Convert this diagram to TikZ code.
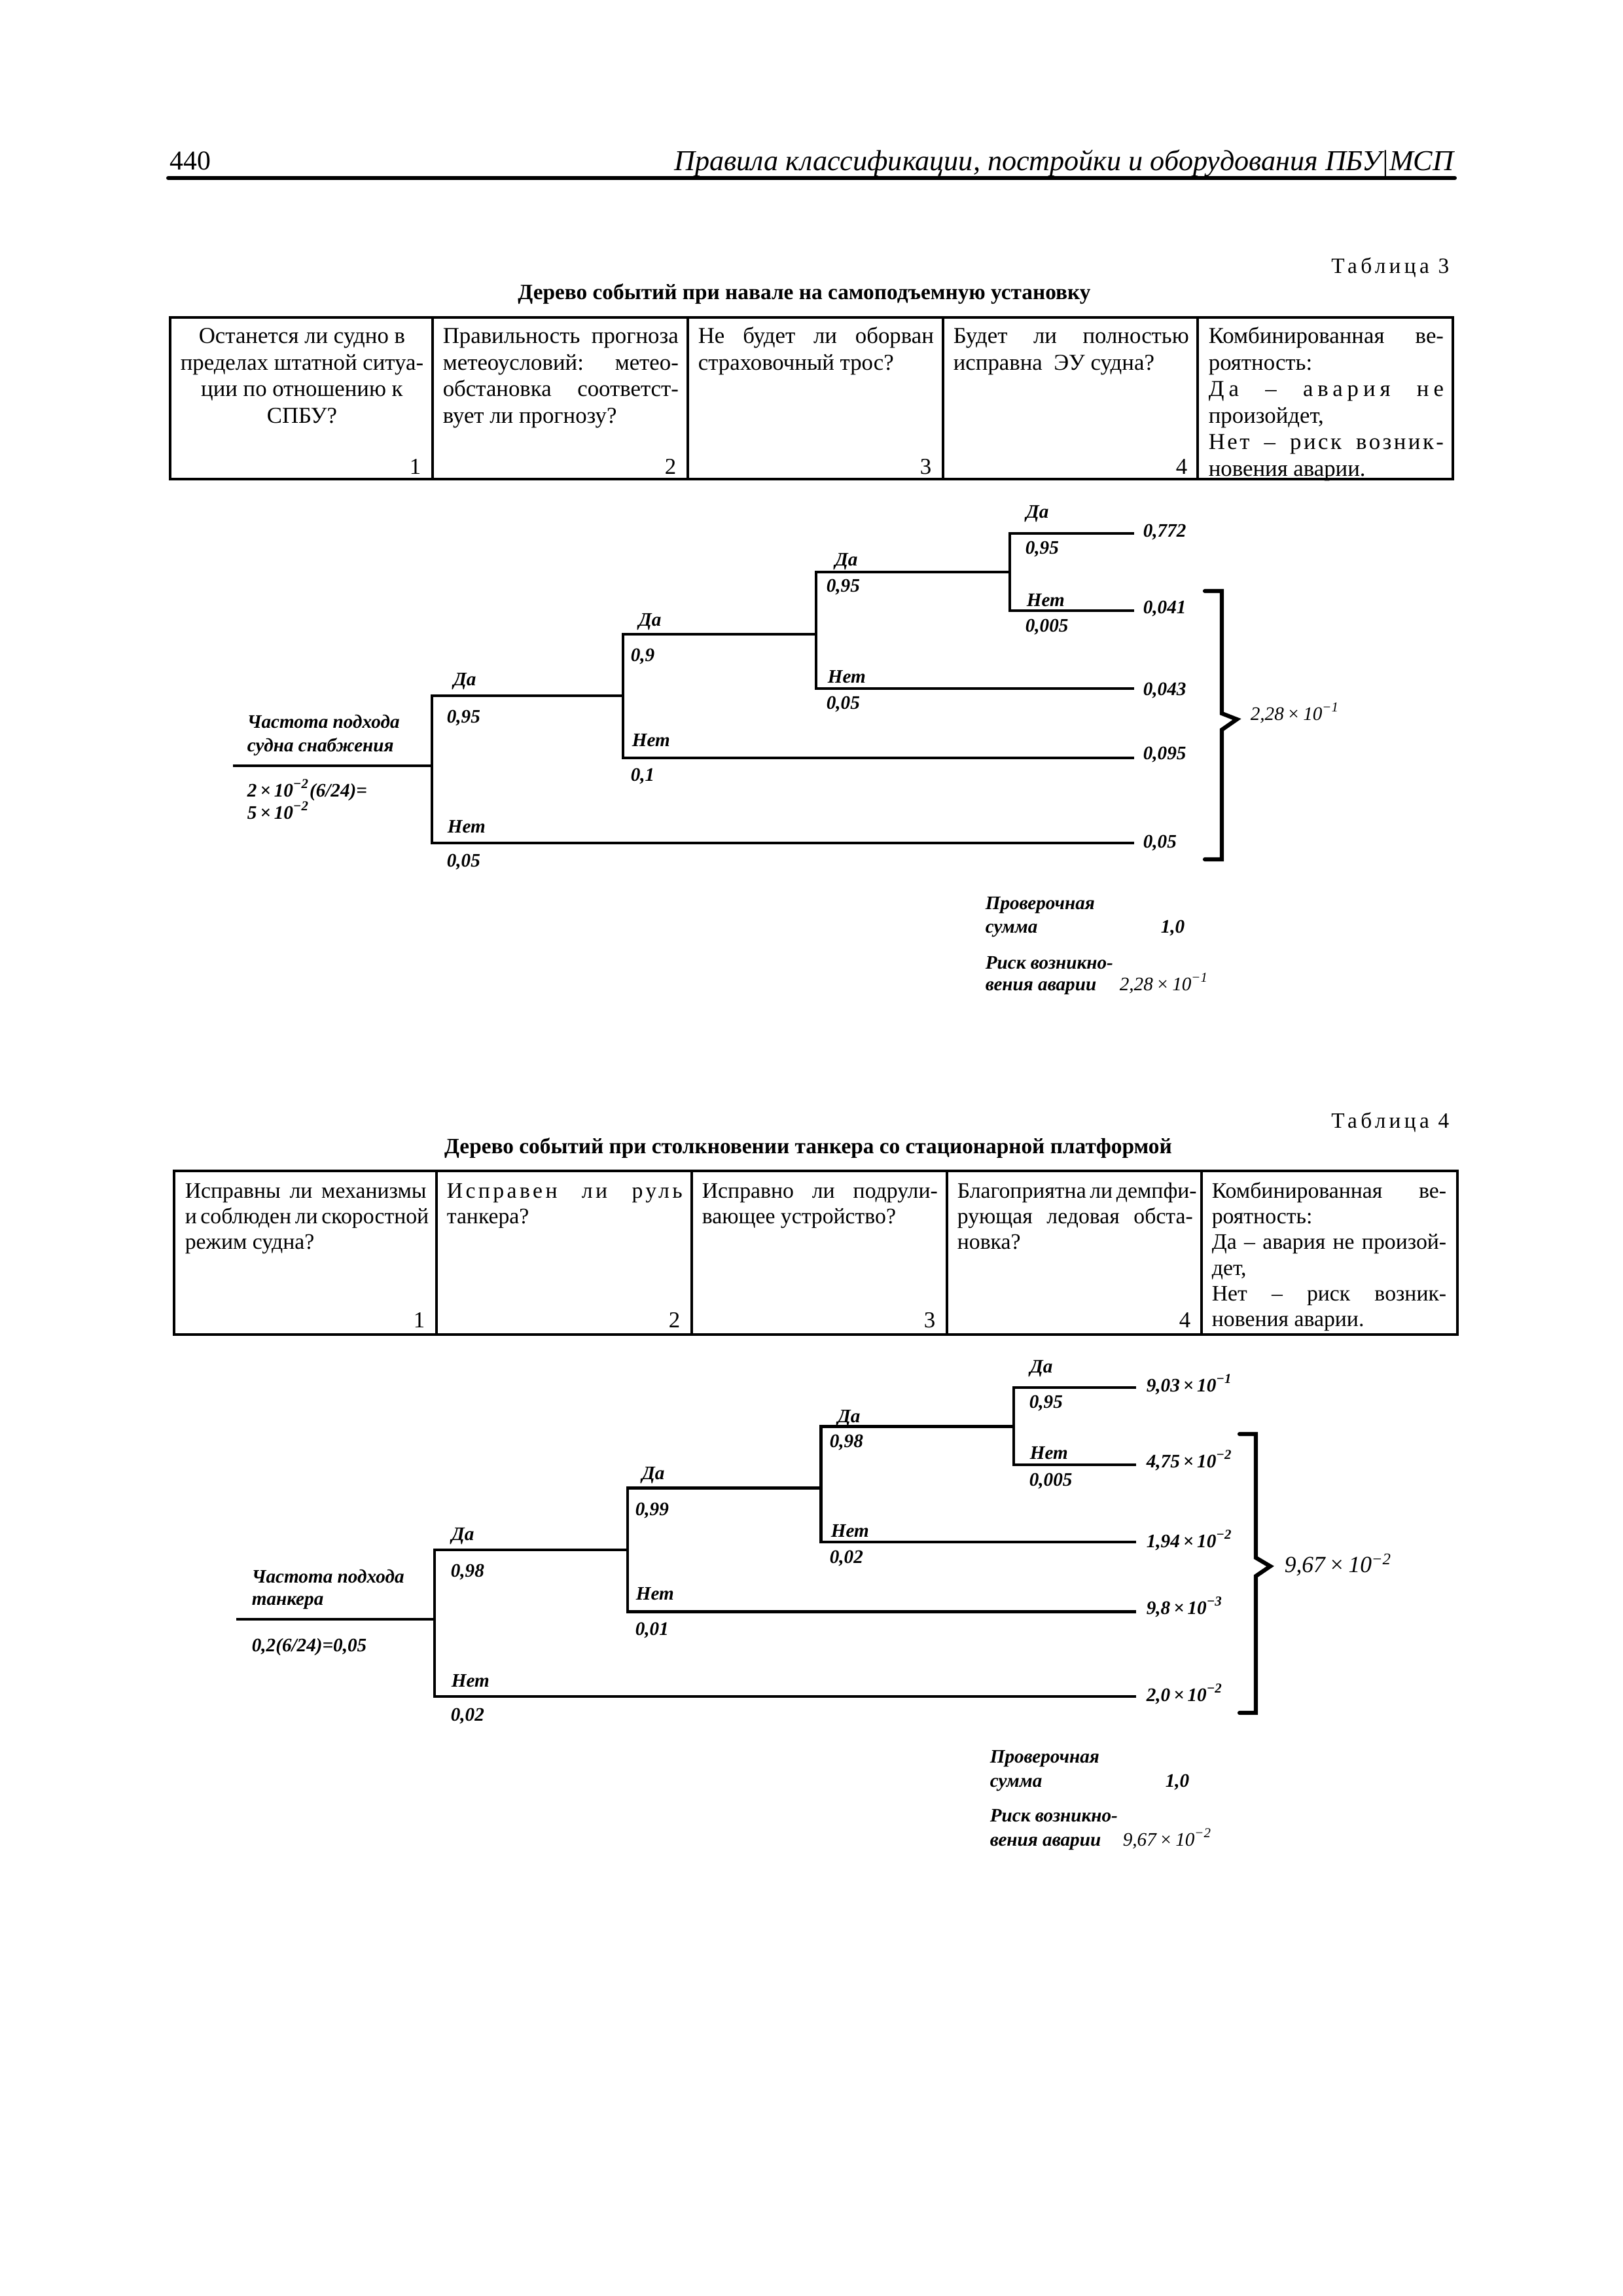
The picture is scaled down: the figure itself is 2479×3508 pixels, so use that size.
\documentclass[tikz,border=0pt]{standalone}
\usepackage{fontspec}
\setmainfont{Liberation Serif}
\newcommand{\sups}[1]{\textsuperscript{#1}}
\newcommand{\jl}[1]{\makebox[\linewidth][s]{#1}}
\newcommand{\lsp}[2]{{\addfontfeature{LetterSpace=#1}#2}}
\newcommand{\cbox}[2]{\parbox[t]{#1}{#2}}
\begin{document}
\begin{tikzpicture}[x=0.24pt,y=-0.24pt,
  tl/.style={line width=1.1pt, line join=miter},
  brk/.style={line width=1.5pt, line join=miter, line cap=round},
  tbo/.style={line width=1.1pt},
  tbi/.style={line width=0.95pt},
  lb/.style={inner sep=0pt, anchor=base west, font=\fontsize{7}{8.4}\selectfont\bfseries\itshape},
  lr/.style={inner sep=0pt, anchor=base west, font=\fontsize{7}{8.4}\selectfont\itshape},
  cellt/.style={inner sep=0pt, anchor=base west, font=\fontsize{8.35}{9.7}\selectfont},
  cellf/.style={inner sep=0pt, anchor=base west, font=\fontsize{8.1}{9.45}\selectfont},
  num/.style={inner sep=0pt, anchor=base east, font=\fontsize{8.35}{9.7}\selectfont},
  tcap/.style={inner sep=0pt, anchor=base east, font=\fontsize{8}{9.6}\selectfont\addfontfeature{LetterSpace=16}},
  ttl/.style={inner sep=0pt, anchor=base, font=\fontsize{8}{9.6}\selectfont\bfseries},
]
\fill[white] (0,0) rectangle (2479,3508);
\useasboundingbox (0,0) rectangle (2479,3508);

% ---------- header
\node[inner sep=0pt, anchor=base west, font=\fontsize{10}{12}\selectfont] (pg) at (259,260) {440};
\node[inner sep=0pt, anchor=base east, font=\fontsize{10.6}{13}\selectfont\itshape] (hd) at (2222,261) {Правила классификации, постройки и оборудования ПБУ|МСП};
\coordinate (rl) at (257,272); \coordinate (rr) at (2223,272);
\draw[line width=1.45pt, line cap=round] (rl) -- (rr);

% ---------- table 3
\node[tcap] (t3n) at (2215,418) {Таблица 3};
\node[ttl] (t3t) at (1229,458) {Дерево событий при навале на самоподъемную установку};
\coordinate (t3a) at (260,485); \coordinate (t3b) at (2220,732);
\draw[tbo] (t3a) rectangle (t3b);
\foreach \x in {661,1051,1441,1830} \draw[tbi] (\x,485) -- (\x,732);

\node[cellt] (t3c1) at (271,525) {\cbox{91pt}{\centering Останется ли судно в\\ пределах штатной ситуа-\\ ции по отношению к\\ СПБУ?}};
\node[cellt] (t3c2) at (676,525) {\cbox{86.4pt}{\jl{Правильность прогноза}\\ \jl{метеоусловий: метео-}\\ \jl{обстановка соответст-}\\ вует ли прогнозу?}};
\node[cellt] (t3c3) at (1066,525) {\cbox{86.4pt}{\jl{Не будет ли оборван}\\ страховочный трос?}};
\node[cellt] (t3c4) at (1456,525) {\cbox{86.4pt}{\jl{Будет ли полностью}\\ исправна\ \ ЭУ судна?}};
\node[cellt] (t3c5) at (1846,525) {\cbox{86.2pt}{\jl{Комбинированная ве-}\\ роятность:\\ \jl{\lsp{20}{Да – авария не}}\\ произойдет,\\ \jl{\lsp{10}{Нет – риск возник-}}\\ новения аварии.}};
\node[num] (t3k1) at (644,725) {1};
\node[num] (t3k2) at (1034,725) {2};
\node[num] (t3k3) at (1424,725) {3};
\node[num] (t3k4) at (1815,725) {4};

% ---------- tree 1
\coordinate (a0) at (356,1170);  \coordinate (aj1) at (660,1170);
\coordinate (ay1) at (660,1063); \coordinate (an1) at (660,1288);
\coordinate (aj2) at (952,1063); \coordinate (ay2) at (952,969);  \coordinate (an2) at (952,1158);
\coordinate (aj3) at (1247,969); \coordinate (ay3) at (1247,874); \coordinate (an3) at (1247,1052);
\coordinate (aj4) at (1543,874); \coordinate (ay4) at (1543,815); \coordinate (an4) at (1543,933);
\coordinate (ae1) at (1733,815); \coordinate (ae2) at (1733,933); \coordinate (ae3) at (1733,1052);
\coordinate (ae4) at (1733,1158); \coordinate (ae5) at (1733,1288);
\draw[tl] (a0) -- (aj1);
\draw[tl] (ae5) -- (an1) -- (ay1) -- (aj2);
\draw[tl] (ae4) -- (an2) -- (ay2) -- (aj3);
\draw[tl] (ae3) -- (an3) -- (ay3) -- (aj4);
\draw[tl] (ae2) -- (an4) -- (ay4) -- (ae1);

\node[lb] (al1a) at (692,1047) {Да};   \node[lb] (al1b) at (682,1104) {0,95};
\node[lb] (al1c) at (683,1272) {Нет};  \node[lb] (al1d) at (682,1324) {0,05};
\node[lb] (al2a) at (975,957) {Да};    \node[lb] (al2b) at (963,1010) {0,9};
\node[lb] (al2c) at (965,1140) {Нет};  \node[lb] (al2d) at (963,1193) {0,1};
\node[lb] (al3a) at (1275,865) {Да};   \node[lb] (al3b) at (1262,905) {0,95};
\node[lb] (al3c) at (1264,1043) {Нет}; \node[lb] (al3d) at (1262,1083) {0,05};
\node[lb] (al4a) at (1567,792) {Да};   \node[lb] (al4b) at (1566,847) {0,95};
\node[lb] (al4c) at (1568,926) {Нет};  \node[lb] (al4d) at (1566,966) {0,005};

\node[lb] (av1) at (1746,821) {0,772};
\node[lb] (av2) at (1746,937) {0,041};
\node[lb] (av3) at (1746,1062) {0,043};
\node[lb] (av4) at (1746,1160) {0,095};
\node[lb] (av5) at (1746,1295) {0,05};

\coordinate (ab1) at (1841,903); \coordinate (ab2) at (1867,903); \coordinate (ab3) at (1867,1090);
\coordinate (ab4) at (1890,1099); \coordinate (ab5) at (1867,1115); \coordinate (ab6) at (1867,1313);
\coordinate (ab7) at (1841,1313);
\draw[brk] (ab1) -- (ab2) -- (ab3) -- (ab4) -- (ab5) -- (ab6) -- (ab7);
\node[lr] (asum) at (1910,1100) {2,28\,×\,10\sups{−1}};

\node[lb] (asrc1) at (377,1112) {Частота подхода};
\node[lb] (asrc2) at (377,1148) {судна снабжения};
\node[lb] (asrc3) at (377,1217) {2\,×\,10\sups{−2}(6/24)=};
\node[lb] (asrc4) at (377,1251) {5\,×\,10\sups{−2}};

\node[lb] (ack1) at (1505,1389) {Проверочная};
\node[lb] (ack2) at (1505,1425) {сумма};
\node[lb] (ack3) at (1773,1425) {1,0};
\node[lb] (ack4) at (1505,1480) {Риск возникно-};
\node[lb] (ack5) at (1505,1513) {вения аварии};
\node[lr] (ack6) at (1710,1513) {2,28\,×\,10\sups{−1}};

% ---------- table 4
\node[tcap] (t4n) at (2215,1723) {Таблица 4};
\node[ttl] (t4t) at (1235,1762) {Дерево событий при столкновении танкера со стационарной платформой};
\coordinate (t4a) at (266,1789); \coordinate (t4b) at (2227,2039);
\draw[tbo] (t4a) rectangle (t4b);
\foreach \x in {667,1057,1447,1836} \draw[tbi] (\x,1789) -- (\x,2039);

\node[cellf] (t4c1) at (282,1830) {\cbox{88.5pt}{\jl{Исправны ли механизмы}\\ \jl{и соблюден ли скоростной}\\ режим судна?}};
\node[cellf] (t4c2) at (682,1830) {\cbox{86.4pt}{\jl{\lsp{13}{Исправен ли руль}}\\ танкера?}};
\node[cellf] (t4c3) at (1072,1830) {\cbox{86.4pt}{\jl{Исправно ли подрули-}\\ вающее устройство?}};
\node[cellf] (t4c4) at (1462,1830) {\cbox{86.4pt}{\jl{Благоприятна ли демпфи-}\\ \jl{рующая ледовая обста-}\\ новка?}};
\node[cellf] (t4c5) at (1851,1830) {\cbox{86pt}{\jl{Комбинированная ве-}\\ роятность:\\ \jl{Да – авария не произой-}\\ дет,\\ \jl{Нет – риск возник-}\\ новения аварии.}};
\node[num] (t4k1) at (650,2028) {1};
\node[num] (t4k2) at (1040,2028) {2};
\node[num] (t4k3) at (1430,2028) {3};
\node[num] (t4k4) at (1820,2028) {4};

% ---------- tree 2
\coordinate (b0) at (361,2474);   \coordinate (bj1) at (664,2474);
\coordinate (by1) at (664,2368);  \coordinate (bn1) at (664,2592);
\coordinate (bj2) at (959,2368);  \coordinate (by2) at (959,2273.5);  \coordinate (bn2) at (959,2462.5);
\coordinate (bj3) at (1254.5,2273.5); \coordinate (by3) at (1254.5,2179.5); \coordinate (bn3) at (1254.5,2356);
\coordinate (bj4) at (1549,2179.5); \coordinate (by4) at (1549,2120); \coordinate (bn4) at (1549,2238);
\coordinate (be1) at (1736,2120); \coordinate (be2) at (1736,2238); \coordinate (be3) at (1736,2356);
\coordinate (be4) at (1736,2462.5); \coordinate (be5) at (1736,2592);
\draw[tl] (b0) -- (bj1);
\draw[tl] (be5) -- (bn1) -- (by1) -- (bj2);
\draw[tl] (be4) -- (bn2) -- (by2) -- (bj3);
\draw[tl] (be3) -- (bn3) -- (by3) -- (bj4);
\draw[tl] (be2) -- (bn4) -- (by4) -- (be1);

\node[lb] (bl1a) at (689,2353) {Да};    \node[lb] (bl1b) at (688,2409) {0,98};
\node[lb] (bl1c) at (689,2577) {Нет};   \node[lb] (bl1d) at (688,2629) {0,02};
\node[lb] (bl2a) at (980,2260) {Да};    \node[lb] (bl2b) at (970,2315) {0,99};
\node[lb] (bl2c) at (971,2444) {Нет};   \node[lb] (bl2d) at (970,2498) {0,01};
\node[lb] (bl3a) at (1279,2173) {Да};   \node[lb] (bl3b) at (1267,2211) {0,98};
\node[lb] (bl3c) at (1269,2348) {Нет};  \node[lb] (bl3d) at (1267,2388) {0,02};
\node[lb] (bl4a) at (1573,2097) {Да};   \node[lb] (bl4b) at (1572,2151) {0,95};
\node[lb] (bl4c) at (1573,2229) {Нет};  \node[lb] (bl4d) at (1572,2270) {0,005};

\node[lb] (bv1) at (1751,2126) {9,03\,×\,10\sups{−1}};
\node[lb] (bv2) at (1751,2242) {4,75\,×\,10\sups{−2}};
\node[lb] (bv3) at (1751,2364) {1,94\,×\,10\sups{−2}};
\node[lb] (bv4) at (1751,2466) {9,8\,×\,10\sups{−3}};
\node[lb] (bv5) at (1751,2599) {2,0\,×\,10\sups{−2}};

\coordinate (bb1) at (1894,2191); \coordinate (bb2) at (1919,2191); \coordinate (bb3) at (1919,2380);
\coordinate (bb4) at (1941,2393); \coordinate (bb5) at (1919,2408); \coordinate (bb6) at (1919,2617);
\coordinate (bb7) at (1894,2617);
\draw[brk] (bb1) -- (bb2) -- (bb3) -- (bb4) -- (bb5) -- (bb6) -- (bb7);
\node[inner sep=0pt, anchor=base west, font=\fontsize{8.5}{10}\selectfont\itshape] (bsum) at (1962,2402) {9,67\,×\,10\sups{−2}};

\node[lb] (bsrc1) at (384,2418) {Частота подхода};
\node[lb] (bsrc2) at (384,2452) {танкера};
\node[lb] (bsrc3) at (384,2523) {0,2(6/24)=0,05};

\node[lb] (bck1) at (1512,2693) {Проверочная};
\node[lb] (bck2) at (1512,2730) {сумма};
\node[lb] (bck3) at (1780,2730) {1,0};
\node[lb] (bck4) at (1512,2783) {Риск возникно-};
\node[lb] (bck5) at (1512,2820) {вения аварии};
\node[lr] (bck6) at (1715,2820) {9,67\,×\,10\sups{−2}};
\end{tikzpicture}
\end{document}
